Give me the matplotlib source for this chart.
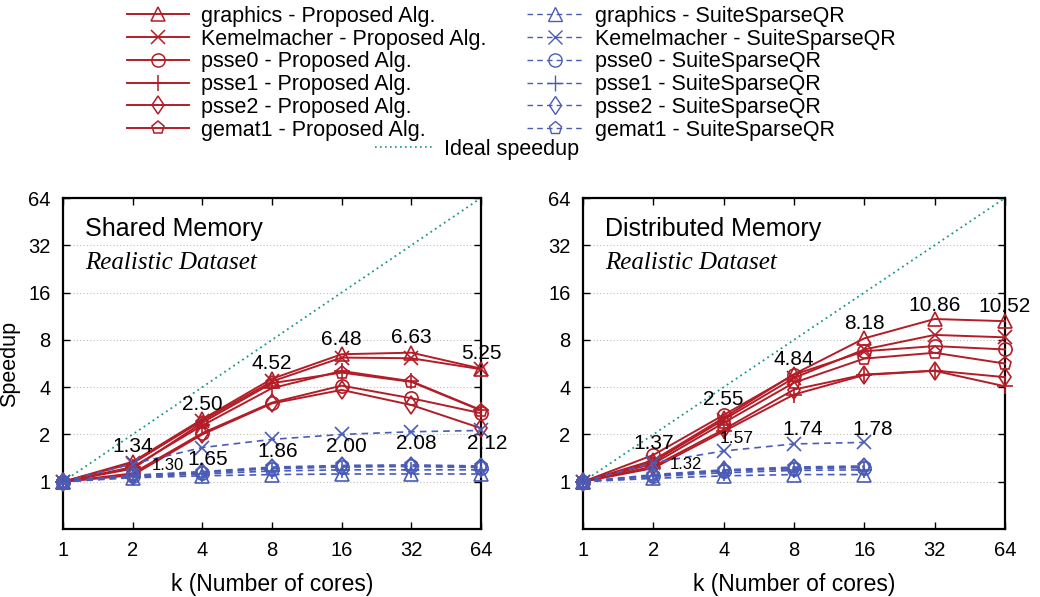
import matplotlib
matplotlib.use("Agg")
import matplotlib.pyplot as plt
from matplotlib.lines import Line2D
from matplotlib.ticker import NullLocator

plt.rcParams['font.family'] = ['Liberation Sans', 'DejaVu Sans']

# ---------------- data ----------------
cores = [1, 2, 4, 8, 16, 32, 64]
cores_dm_qr = [1, 2, 4, 8, 16]
tick_labels = ["1", "2", "4", "8", "16", "32", "64"]
datasets = ["graphics", "Kemelmacher", "psse0", "psse1", "psse2", "gemat1"]

# Shared memory - Proposed Alg.
sm_graphics = [1, 1.34, 2.50, 4.52, 6.48, 6.63, 5.25]
sm_kemel = [1, 1.31, 2.45, 4.35, 6.17, 6.11, 5.20]
sm_psse0 = [1, 1.13, 2.04, 3.19, 4.09, 3.40, 2.73]
sm_psse1 = [1, 1.24, 2.28, 3.94, 5.07, 4.36, 2.86]
sm_psse2 = [1, 1.10, 2.00, 3.15, 3.84, 3.08, 2.19]
sm_gemat1 = [1, 1.21, 2.38, 4.24, 4.95, 4.32, 2.84]
# Shared memory - SuiteSparseQR
sm_q_graphics = [1, 1.06, 1.09, 1.11, 1.12, 1.12, 1.12]
sm_q_kemel = [1, 1.30, 1.65, 1.86, 2.00, 2.08, 2.12]
sm_q_psse0 = [1, 1.08, 1.14, 1.21, 1.24, 1.25, 1.23]
sm_q_psse1 = [1, 1.07, 1.12, 1.17, 1.19, 1.19, 1.19]
sm_q_psse2 = [1, 1.09, 1.15, 1.22, 1.25, 1.26, 1.24]
sm_q_gemat1 = [1, 1.10, 1.16, 1.24, 1.27, 1.28, 1.26]

# Distributed memory - Proposed Alg.
dm_graphics = [1, 1.37, 2.55, 4.84, 8.18, 10.86, 10.52]
dm_kemel = [1, 1.34, 2.48, 4.58, 6.95, 8.60, 8.30]
dm_psse0 = [1, 1.48, 2.66, 4.80, 6.77, 7.30, 6.95]
dm_psse1 = [1, 1.22, 2.09, 3.59, 4.78, 5.08, 4.05]
dm_psse2 = [1, 1.25, 2.15, 3.86, 4.81, 5.10, 4.63]
dm_gemat1 = [1, 1.30, 2.37, 4.27, 6.08, 6.62, 5.65]
# Distributed memory - SuiteSparseQR
dm_q_graphics = [1, 1.05, 1.09, 1.11, 1.11]
dm_q_kemel = [1, 1.32, 1.57, 1.74, 1.78]
dm_q_psse0 = [1, 1.09, 1.17, 1.21, 1.23]
dm_q_psse1 = [1, 1.08, 1.14, 1.18, 1.19]
dm_q_psse2 = [1, 1.10, 1.18, 1.22, 1.24]
dm_q_gemat1 = [1, 1.11, 1.19, 1.24, 1.26]

ideal = [1, 64]

# ---------------- style ----------------
RED = "#b31d27"
BLUE = "#4a5cb6"
TEAL = "#17968b"
markers = ["^", "x", "o", "+", "d", "p"]
msizes = [9.5, 9.5, 9.5, 11, 9.5, 9.5]

fig = plt.figure(figsize=(10.4, 5.97), dpi=100)
W, H = 1040.0, 597.0
ax1 = fig.add_axes([63 / W, 68 / H, 418 / W, 331 / H])
ax2 = fig.add_axes([583 / W, 68 / H, 422 / W, 331 / H])


def style_axes(ax):
    ax.set_xscale('log', base=2)
    ax.set_yscale('log', base=2)
    ax.set_xlim(1, 64)
    ax.set_ylim(0.5, 64)
    ax.set_xticks(cores)
    ax.set_xticklabels(tick_labels)
    ax.set_yticks(cores)
    ax.set_yticklabels(tick_labels)
    ax.xaxis.set_minor_locator(NullLocator())
    ax.yaxis.set_minor_locator(NullLocator())
    ax.tick_params(axis='both', which='major', direction='in', length=5,
                   width=1.0, labelsize=14.5, top=True, right=True, pad=9)
    ax.grid(axis='y', linestyle=(0, (1, 2)), color='#bdbdbd', linewidth=0.8)
    for s in ax.spines.values():
        s.set_linewidth(1.6)
        s.set_color('black')
    ax.set_xlabel("k (Number of cores)", fontsize=16.5, labelpad=9)


def plot_group(ax, x, series, color, ls, lw):
    for ys, m, ms in zip(series, markers, msizes):
        ax.plot(x, ys, color=color, linestyle=ls, linewidth=lw, marker=m,
                markersize=ms, markerfacecolor='none', markeredgecolor=color,
                markeredgewidth=1.2, clip_on=False, zorder=3)


for ax in (ax1, ax2):
    style_axes(ax)
    ax.plot(ideal, ideal, color=TEAL, linestyle=(0, (1, 2)), linewidth=1.3, zorder=2)

plot_group(ax1, cores, [sm_graphics, sm_kemel, sm_psse0, sm_psse1, sm_psse2, sm_gemat1],
           RED, '-', 1.4)
plot_group(ax1, cores, [sm_q_graphics, sm_q_kemel, sm_q_psse0, sm_q_psse1, sm_q_psse2, sm_q_gemat1],
           BLUE, (0, (4, 3)), 1.2)
plot_group(ax2, cores, [dm_graphics, dm_kemel, dm_psse0, dm_psse1, dm_psse2, dm_gemat1],
           RED, '-', 1.4)
plot_group(ax2, cores_dm_qr, [dm_q_graphics, dm_q_kemel, dm_q_psse0, dm_q_psse1, dm_q_psse2, dm_q_gemat1],
           BLUE, (0, (4, 3)), 1.2)

ax1.set_ylabel("Speedup", fontsize=15.5, labelpad=6)

# titles inside panels
for ax, title in ((ax1, "Shared Memory"), (ax2, "Distributed Memory")):
    ax.text(0.052, 0.905, title, transform=ax.transAxes, fontsize=18,
            ha='left', va='center')
    ax.text(0.052, 0.805, "Realistic Dataset", transform=ax.transAxes,
            fontsize=18, ha='left', va='center', style='italic',
            family=['Liberation Serif', 'DejaVu Serif'])

PX = 72.0 / 100.0  # px -> points


def label_points(ax, x, ys, offsets, sizes):
    for xi, yi, (dx, dy), fs in zip(x, ys, offsets, sizes):
        ax.annotate("%.2f" % yi, (xi, yi), xytext=(dx * PX, dy * PX),
                    textcoords='offset points', ha='center', va='center',
                    fontsize=fs, zorder=5, annotation_clip=False)


# left panel labels
label_points(ax1, cores[1:], sm_graphics[1:], [(0, 15)] * 6, [15] * 6)
label_points(ax1, cores[1:], sm_q_kemel[1:],
             [(35, -2), (5, -12), (6, -12), (5, -12), (5, -12), (6, -13)],
             [12, 15, 15, 15, 15, 15])
# right panel labels
label_points(ax2, cores[1:], dm_graphics[1:], [(0, 17), (0, 18), (0, 15), (0, 15), (0, 14), (0, 15)], [15] * 6)
label_points(ax2, cores_dm_qr[1:], dm_q_kemel[1:],
             [(33, -2), (13, 12), (9, 14), (8, 13)],
             [12, 12.5, 15, 15])

# ---------------- legend ----------------
red_handles = [Line2D([], [], color=RED, linestyle='-', linewidth=1.4, marker=m,
                      markersize=ms, markerfacecolor='none', markeredgecolor=RED,
                      markeredgewidth=1.1) for m, ms in zip(markers, msizes)]
blue_handles = [Line2D([], [], color=BLUE, linestyle=(0, (4, 3)), linewidth=1.0, marker=m,
                       markersize=ms, markerfacecolor='none', markeredgecolor=BLUE,
                       markeredgewidth=1.0) for m, ms in zip(markers, msizes)]
ideal_handle = [Line2D([], [], color=TEAL, linestyle=(0, (1, 2)), linewidth=1.2)]

leg_kw = dict(frameon=False, fontsize=15.5, borderpad=0, borderaxespad=0,
              labelspacing=0.08, handletextpad=0.55, loc='upper left')
leg1 = fig.legend(red_handles, [d + " - Proposed Alg." for d in datasets],
                  bbox_to_anchor=(127 / W, 1 - 6 / H), handlelength=2.9, **leg_kw)
leg2 = fig.legend(blue_handles, [d + " - SuiteSparseQR" for d in datasets],
                  bbox_to_anchor=(527 / W, 1 - 6 / H), handlelength=2.6, **leg_kw)
leg3 = fig.legend(ideal_handle, ["Ideal speedup"],
                  bbox_to_anchor=(375 / W, 1 - 139 / H), handlelength=2.65, **leg_kw)

fig.savefig("out.png", dpi=100)
